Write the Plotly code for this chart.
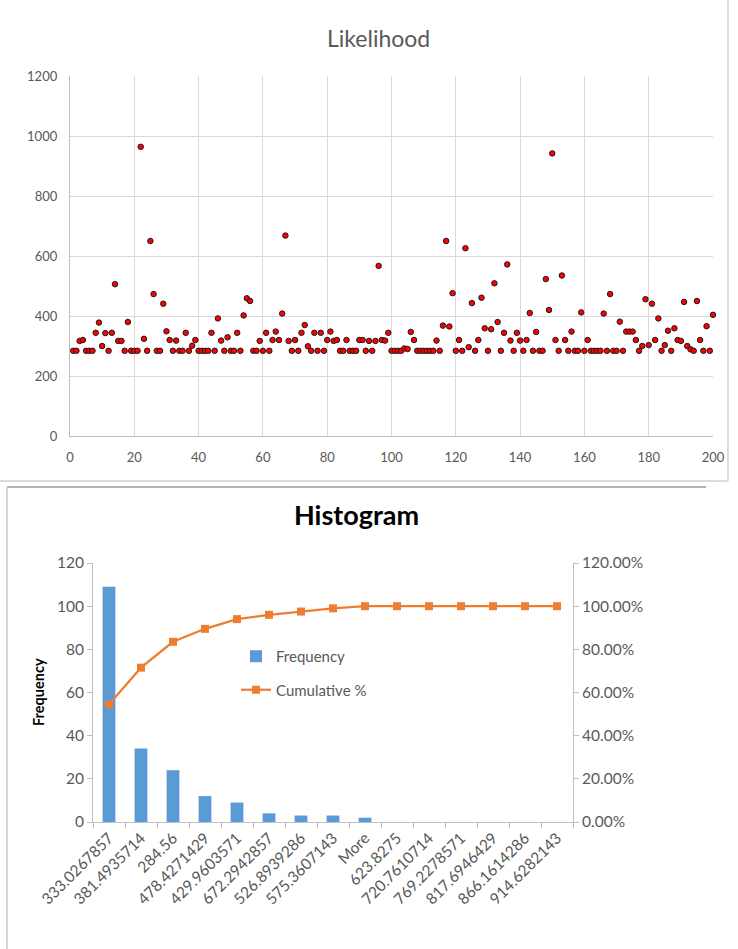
import plotly.graph_objects as go

# ---------------- data ----------------
sample_index = list(range(1, 201))
likelihood = [
    284, 284, 317, 320, 284, 284, 284, 344, 378, 300,
    343, 284, 344, 506, 317, 317, 284, 380, 284, 284,
    284, 964, 324, 284, 650, 473, 284, 284, 441, 349,
    320, 284, 318, 284, 284, 344, 284, 301, 320, 284,
    284, 284, 284, 344, 284, 392, 318, 284, 329, 284,
    284, 344, 284, 402, 459, 450, 284, 284, 317, 284,
    344, 284, 320, 348, 320, 408, 668, 317, 284, 320,
    284, 344, 370, 299, 284, 344, 284, 344, 284, 320,
    348, 317, 320, 284, 284, 320, 284, 284, 284, 320,
    320, 284, 317, 284, 317, 567, 320, 318, 344, 284,
    284, 284, 284, 292, 290, 347, 320, 284, 284, 284,
    284, 284, 284, 318, 284, 368, 650, 365, 476, 284,
    320, 284, 626, 296, 443, 284, 320, 461, 359, 284,
    356, 509, 380, 284, 344, 572, 318, 284, 344, 318,
    284, 320, 410, 284, 347, 284, 284, 523, 420, 942,
    320, 284, 535, 320, 284, 348, 284, 284, 412, 284,
    320, 284, 284, 284, 284, 408, 284, 473, 284, 284,
    381, 284, 348, 348, 348, 320, 284, 300, 456, 303,
    441, 320, 392, 284, 303, 351, 284, 359, 320, 317,
    447, 300, 289, 284, 450, 320, 284, 366, 284, 404,
]

bin_labels = ["333.0267857", "381.4935714", "284.56", "478.4271429", "429.9603571",
              "672.2942857", "526.8939286", "575.3607143", "More", "623.8275",
              "720.7610714", "769.2278571", "817.6946429", "866.1614286", "914.6282143"]
frequency = [109, 34, 24, 12, 9, 4, 3, 3, 2, 0, 0, 0, 0, 0, 0]
cumulative_pct = [0.545, 0.715, 0.835, 0.895, 0.94, 0.96, 0.975, 0.99, 1.0,
                  1.0, 1.0, 1.0, 1.0, 1.0, 1.0]

W, H = 738, 949
FONT = "Lato, 'Open Sans', sans-serif"
GREY = "#595959"


def px_x(p):
    return p / W


def px_y(p):
    return 1 - p / H


fig = go.Figure()

fig.add_trace(go.Scatter(
    x=sample_index, y=likelihood, mode="markers", showlegend=False,
    marker=dict(size=5.5, color="#ff0000", line=dict(color="#1a1a1a", width=1)),
    xaxis="x", yaxis="y", cliponaxis=False))

fig.add_trace(go.Bar(
    x=bin_labels, y=frequency, name="Frequency", marker_color="#5b9bd5",
    marker_line_width=0, width=0.4, xaxis="x2", yaxis="y2",
    legendgroup="a"))

fig.add_trace(go.Scatter(
    x=bin_labels, y=cumulative_pct, name="Cumulative %", mode="lines+markers",
    line=dict(color="#ed7d31", width=2.25),
    marker=dict(symbol="square", size=8, color="#ed7d31"),
    xaxis="x2", yaxis="y3", legendgroup="b", cliponaxis=False))

tick_font = dict(family=FONT, size=13, color=GREY)
tick_font2 = dict(family=FONT, size=15.5, color=GREY)

fig.update_layout(
    template="none",
    width=W, height=H, margin=dict(l=0, r=0, t=0, b=0, autoexpand=False),
    paper_bgcolor="white", plot_bgcolor="white",
    font=dict(family=FONT, color=GREY),
    xaxis=dict(domain=[px_x(70), px_x(713)], range=[0, 200], dtick=20, tick0=0,
               showgrid=True, gridcolor="#d9d9d9", gridwidth=1.3, zeroline=False,
               showline=True, linecolor="#bfbfbf", linewidth=1.3, automargin=False,
               ticks="", tickfont=tick_font, anchor="y", ticklabelstandoff=9),
    yaxis=dict(domain=[px_y(436), px_y(76)], range=[0, 1200], dtick=200,
               showgrid=True, gridcolor="#d9d9d9", gridwidth=1.3, zeroline=False,
               showline=True, linecolor="#bfbfbf", linewidth=1.3, automargin=False,
               ticks="", tickfont=tick_font, anchor="x", ticklabelstandoff=9),
    xaxis2=dict(domain=[px_x(93), px_x(573)], type="category", range=[-0.5, 14.5],
                tickson="boundaries", ticks="outside", ticklen=5,
                tickcolor="#bfbfbf", showline=True, linecolor="#bfbfbf",
                showgrid=False, zeroline=False, tickangle=-45, automargin=False,
                tickfont=tick_font2, anchor="y2"),
    yaxis2=dict(domain=[px_y(822), px_y(563)], range=[0, 120], dtick=20,
                showgrid=False, zeroline=False, showline=True, automargin=False,
                linecolor="#bfbfbf", ticks="outside", ticklen=5,
                tickcolor="#bfbfbf", tickfont=tick_font2, anchor="x2"),
    yaxis3=dict(range=[0, 1.2], dtick=0.2, tickformat=".2%", overlaying="y2",
                side="right", anchor="x2", showgrid=False, zeroline=False,
                showline=True, linecolor="#bfbfbf", ticks="outside", ticklen=5,
                automargin=False, tickcolor="#bfbfbf", tickfont=tick_font2),
    legend=dict(x=px_x(236), y=px_y(640), xanchor="left", yanchor="top",
                bgcolor="rgba(0,0,0,0)", font=dict(family=FONT, size=15, color=GREY),
                traceorder="grouped", tracegroupgap=11),
    annotations=[
        dict(text="Likelihood", x=px_x(378), y=px_y(38), xref="paper", yref="paper",
             xanchor="center", yanchor="middle",
             showarrow=False, font=dict(family=FONT, size=23, color=GREY)),
        dict(text="<b>Histogram</b>", x=px_x(356), y=px_y(514), xref="paper", yref="paper",
             xanchor="center", yanchor="middle",
             showarrow=False, font=dict(family=FONT, size=27, color="#000000")),
        dict(text="<b>Frequency</b>", x=px_x(38), y=px_y(692), xref="paper", yref="paper",
             xanchor="center", yanchor="middle",
             showarrow=False, textangle=-90, font=dict(family=FONT, size=14.5, color="#000000")),
    ],
    shapes=[
        dict(type="line", xref="paper", yref="paper", x0=0, x1=px_x(728), y0=px_y(481), y1=px_y(481),
             line=dict(color="#d0d0d0", width=1.5)),
        dict(type="line", xref="paper", yref="paper", x0=px_x(728), x1=px_x(728), y0=px_y(481), y1=1,
             line=dict(color="#d0d0d0", width=1.5)),
        dict(type="line", xref="paper", yref="paper", x0=px_x(7), x1=px_x(706), y0=px_y(487), y1=px_y(487),
             line=dict(color="#9a9a9a", width=1.5)),
        dict(type="line", xref="paper", yref="paper", x0=px_x(7), x1=px_x(7), y0=px_y(487), y1=0,
             line=dict(color="#c8c8c8", width=1.5)),
    ],
)

fig.write_html("out.html", config={"displayModeBar": False},
               post_script="document.body.style.margin='0px';")
